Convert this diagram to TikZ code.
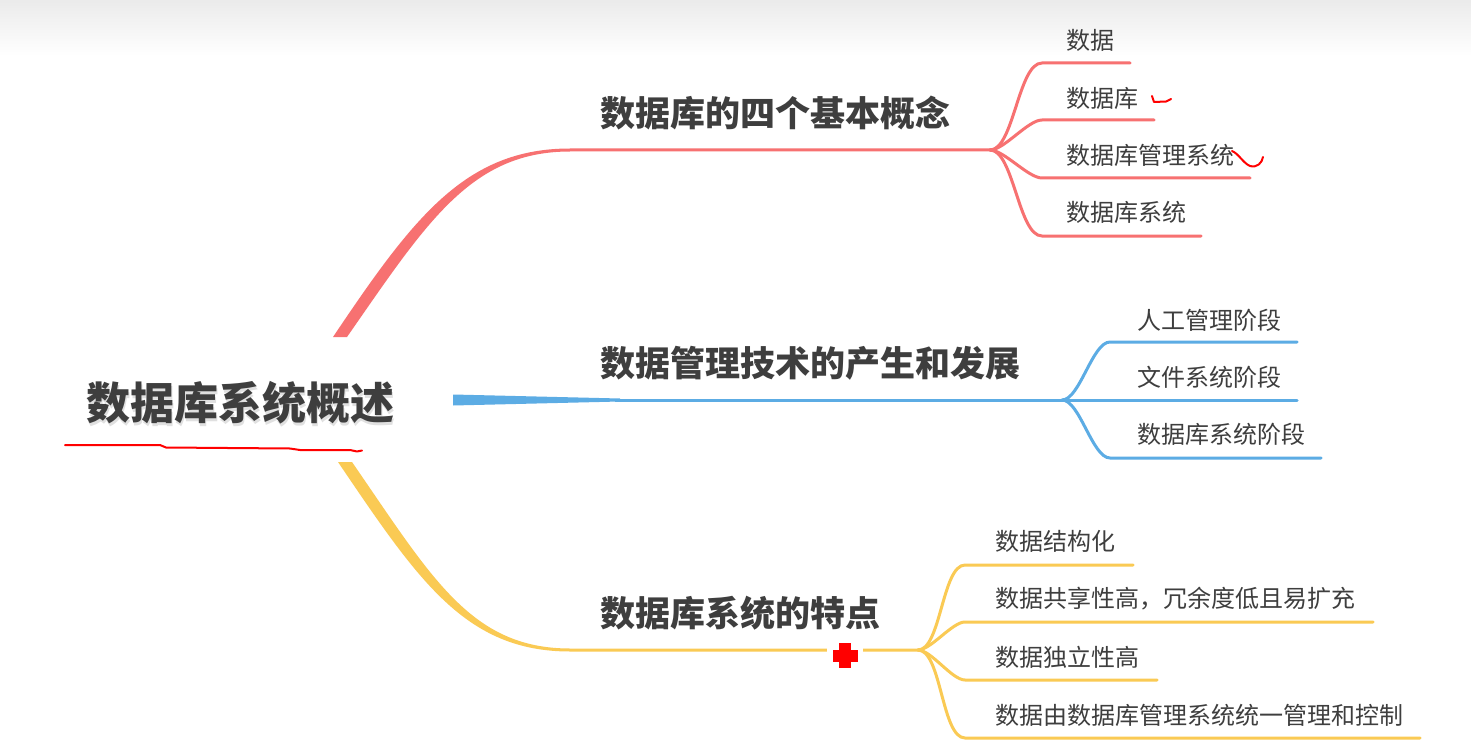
\documentclass[tikz,border=0pt]{standalone}
\usepackage{fontspec}
\newfontfamily\cjk{Noto Sans CJK SC}
\definecolor{bred}{RGB}{247,113,113}
\definecolor{bblue}{RGB}{92,172,228}
\definecolor{byel}{RGB}{250,202,84}
\definecolor{txt}{RGB}{62,62,62}
\begin{document}
\begin{tikzpicture}[x=1pt,y=-1pt,
 leaf/.style={anchor=west,inner sep=0pt,text=txt,font=\cjk\fontsize{24}{24}\selectfont},
 branch/.style={anchor=west,inner sep=0pt,text=txt,font=\cjk\bfseries\fontsize{35}{35}\selectfont},
 rootnode/.style={inner sep=0pt,text=txt,font=\cjk\bfseries\fontsize{44}{44}\selectfont},
 twig/.style={line width=3pt,line cap=round},
 ink/.style={red,line width=2pt,line cap=round,line join=round},
 fork/.style={out=0,in=180,looseness=0.6}]
% background
\fill[white] (0,0) rectangle (1471,754);
\useasboundingbox (0,0) rectangle (1471,754);
\shade[top color=black!8,bottom color=white] (0,0) rectangle (1471,56);

% root
\node[rootnode,text=black!12] at (241.5,405.5) {数据库系统概述};
\node[rootnode] (root) at (240,403) {数据库系统概述};
\draw[ink,line width=2pt] (65,445) -- (160,445) -- (166,447.5) -- (290,448.5) -- (300,450) -- (350,450) -- (357,451.5) -- (362,450.5);

% ---------------- red branch
\node[branch] (b1) at (600,113) {数据库的四个基本概念};
\coordinate (rf) at (990,150);
\fill[bred] (333,337) .. controls (413,218) and (465,148.5) .. (570,148.5) -- (990,148.5)
  -- (990,151.5) -- (570,151.5) .. controls (471,151.5) and (427,222) .. (347,337) -- cycle;
\node[leaf] (r1) at (1066,40) {数据};
\node[leaf] (r2) at (1066,98) {数据库};
\node[leaf] (r3) at (1066,155) {数据库管理系统};
\node[leaf] (r4) at (1066,212) {数据库系统};
\coordinate (r1s) at (1042,63);  \coordinate (r1e) at (1130,63);
\coordinate (r2s) at (1042,120); \coordinate (r2e) at (1154,120);
\coordinate (r3s) at (1042,178); \coordinate (r3e) at (1250,178);
\coordinate (r4s) at (1042,236); \coordinate (r4e) at (1201,236);
\foreach \i in {1,2,3,4}{\draw[twig,bred] (rf) to[fork] (r\i s) -- (r\i e);}
\draw[ink] (1152,96) -- (1154,102) -- (1166,101.5) -- (1171,99);
\draw[ink] (1232,151) .. controls (1239,154) and (1243,163) .. (1250,166) .. controls (1257,168) and (1262,163) .. (1263,157);

% ---------------- blue branch
\node[branch] (b2) at (600,363) {数据管理技术的产生和发展};
\coordinate (bf) at (1062,400);
\fill[bblue] (453,394.5) -- (620,398.5) -- (620,401.5) -- (453,405.5) -- cycle;
\draw[twig,bblue,line cap=butt] (615,400) -- (bf);
\node[leaf] (u1) at (1137,320) {人工管理阶段};
\node[leaf] (u2) at (1137,377) {文件系统阶段};
\node[leaf] (u3) at (1137,434) {数据库系统阶段};
\coordinate (u1s) at (1110,342); \coordinate (u1e) at (1297,342);
\coordinate (u2s) at (1110,400); \coordinate (u2e) at (1297,400);
\coordinate (u3s) at (1110,458); \coordinate (u3e) at (1321,458);
\draw[twig,bblue] (bf) to[fork] (u1s) -- (u1e);
\draw[twig,bblue] (bf) -- (u2s) -- (u2e);
\draw[twig,bblue] (bf) to[fork] (u3s) -- (u3e);

% ---------------- yellow branch
\node[branch] (b3) at (600,613) {数据库系统的特点};
\coordinate (yf) at (918,650);
\fill[byel] (338,462) .. controls (418,580) and (465,651.5) .. (570,651.5) -- (918,651.5)
  -- (918,648.5) -- (570,648.5) .. controls (471,648.5) and (432,578) .. (352,462) -- cycle;
\node[leaf] (y1) at (995,541) {数据结构化};
\node[leaf] (y2) at (995,599) {数据共享性高，冗余度低且易扩充};
\node[leaf] (y3) at (995,657) {数据独立性高};
\node[leaf] (y4) at (995,715) {数据由数据库管理系统统一管理和控制};
\coordinate (y1s) at (965,565); \coordinate (y1e) at (1133,565);
\coordinate (y2s) at (965,622); \coordinate (y2e) at (1373,622);
\coordinate (y3s) at (965,680); \coordinate (y3e) at (1157,680);
\coordinate (y4s) at (965,738); \coordinate (y4e) at (1420,738);
\foreach \i in {1,2,3,4}{\draw[twig,byel] (yf) to[fork] (y\i s) -- (y\i e);}
% red cross on the yellow line
\fill[white] (827,644) rectangle (863,667);
\fill[red] (839,643) rectangle (851,668);
\fill[red] (832.5,649.5) rectangle (857.5,661.5);
\end{tikzpicture}
\end{document}
